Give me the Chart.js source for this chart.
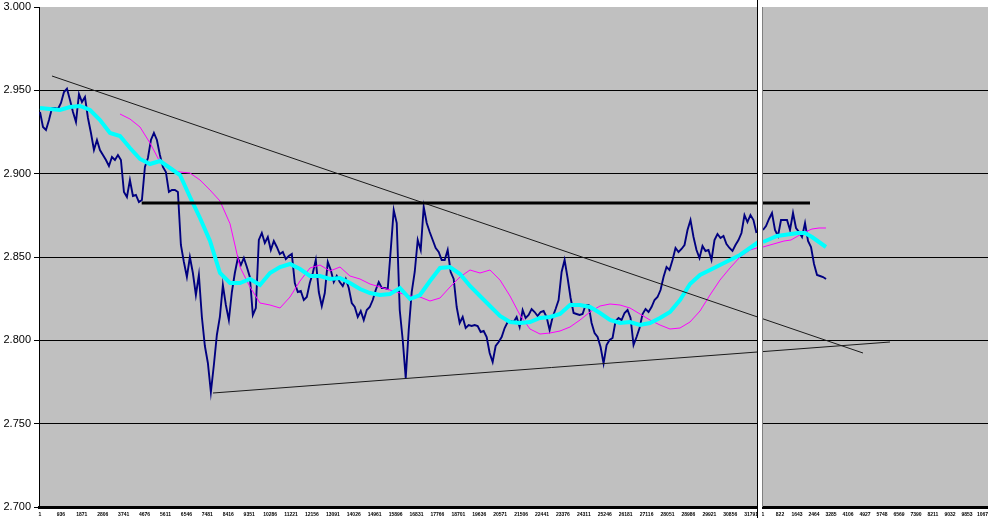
<!DOCTYPE html>
<html><head><meta charset="utf-8">
<script src="https://cdn.jsdelivr.net/npm/chart.js@4.4.0/dist/chart.umd.min.js"></script>
<style>html,body{margin:0;padding:0;background:#fff;}#wrap{width:988px;height:518px;}</style>
</head><body><div id="wrap"><canvas id="c" width="988" height="518"></canvas></div>
<script>
// ---- data (x in sample index; panel 1 and panel 2 have their own index) ----
const BLUE1_START = 1, BLUE1_STEP = 134;
const blue1 = [
2.9370,2.9280,2.9262,2.9322,2.9394,2.9394,2.9388,2.9424,2.9490,2.9510,
2.9442,2.9370,2.9310,2.9478,2.9430,2.9460,2.9334,2.9244,2.9142,2.9202,
2.9142,2.9112,2.9082,2.9046,2.9100,2.9082,2.9112,2.9082,2.8890,2.8860,
2.8962,2.8866,2.8872,2.8830,2.8842,2.9040,2.9094,2.9202,2.9244,2.9202,
2.9112,2.9040,2.9010,2.8890,2.8902,2.8902,2.8890,2.8572,2.8470,2.8380,
2.8500,2.8404,2.8272,2.8392,2.8140,2.7966,2.7864,2.7690,2.7852,2.8032,
2.8140,2.8332,2.8212,2.8122,2.8290,2.8404,2.8494,2.8452,2.8494,2.8440,
2.8380,2.8152,2.8194,2.8602,2.8644,2.8584,2.8620,2.8542,2.8596,2.8560,
2.8518,2.8530,2.8488,2.8506,2.8518,2.8344,2.8290,2.8296,2.8242,2.8260,
2.8344,2.8404,2.8482,2.8290,2.8206,2.8284,2.8470,2.8422,2.8350,2.8386,
2.8350,2.8326,2.8368,2.8314,2.8224,2.8200,2.8140,2.8176,2.8122,2.8182,
2.8200,2.8242,2.8302,2.8350,2.8314,2.8314,2.8308,2.8542,2.8782,2.8704,
2.8182,2.8002,2.7775,2.8062,2.8290,2.8410,2.8602,2.8542,2.8800,2.8704,
2.8650,2.8602,2.8554,2.8530,2.8482,2.8482,2.8542,2.8410,2.8368,2.8200,
2.8104,2.8140,2.8074,2.8092,2.8086,2.8092,2.8086,2.8050,2.8056,2.8020,
2.7924,2.7870,2.7966,2.7990,2.8020,2.8074,2.8110,2.8116,2.8110,2.8140,
2.8080,2.8182,2.8134,2.8152,2.8188,2.8170,2.8146,2.8170,2.8176,2.8140,
2.8062,2.8140,2.8188,2.8242,2.8410,2.8482,2.8374,2.8254,2.8164,2.8158,
2.8152,2.8158,2.8212,2.8212,2.8104,2.8044,2.8020,2.7960,2.7862,2.7972,
2.8002,2.8014,2.8116,2.8134,2.8122,2.8164,2.8182,2.8134,2.7972,2.8020,
2.8074,2.8158,2.8188,2.8170,2.8200,2.8242,2.8260,2.8302,2.8380,2.8440,
2.8422,2.8482,2.8554,2.8530,2.8548,2.8572,2.8662,2.8722,2.8620,2.8542,
2.8494,2.8566,2.8536,2.8542,2.8482,2.8602,2.8638,2.8614,2.8626,2.8578,
2.8554,2.8536,2.8572,2.8602,2.8644,2.8752,2.8710,2.8752,2.8722,2.8644
];
const CYAN1_START = 1, CYAN1_STEP = 447;
const cyan1 = [
2.9394,2.9388,2.9382,2.9400,2.9406,2.9382,2.9322,2.9244,2.9226,2.9154,
2.9088,2.9058,2.9076,2.9034,2.8992,2.8860,2.8734,2.8596,2.8404,2.8344,
2.8344,2.8368,2.8332,2.8404,2.8440,2.8458,2.8428,2.8386,2.8386,2.8368,
2.8374,2.8344,2.8308,2.8284,2.8272,2.8278,2.8314,2.8248,2.8272,2.8356,
2.8434,2.8440,2.8398,2.8326,2.8266,2.8206,2.8146,2.8110,2.8104,2.8110,
2.8134,2.8140,2.8158,2.8212,2.8212,2.8200,2.8164,2.8122,2.8104,2.8110,
2.8092,2.8104,2.8134,2.8170,2.8242,2.8338,2.8392,2.8422,2.8452,2.8482,
2.8512,2.8554,2.8596
];
const MAG1_START = 3577, MAG1_STEP = 447;
const magenta1 = [
2.9358,2.9328,2.9280,2.9184,2.9070,2.9022,2.9010,2.9004,2.8962,2.8902,
2.8836,2.8700,2.8440,2.8320,2.8224,2.8212,2.8194,2.8260,2.8356,2.8434,
2.8452,2.8416,2.8440,2.8386,2.8368,2.8338,2.8320,2.8302,2.8284,2.8266,
2.8260,2.8236,2.8254,2.8320,2.8380,2.8422,2.8404,2.8422,2.8362,2.8266,
2.8152,2.8068,2.8038,2.8044,2.8056,2.8080,2.8122,2.8170,2.8206,2.8218,
2.8212,2.8194,2.8158,2.8122,2.8092,2.8068,2.8074,2.8110,2.8176,2.8272,
2.8362,2.8434,2.8500,2.8542,2.8560
];
// panel 2 (index restarts at 1)
const BLUE2_STEP = 145;
const blue2 = [2.8662,2.8686,2.8728,2.8764,2.8662,2.8626,2.8722,2.8722,2.8722,2.8662,
2.8764,2.8674,2.8650,2.8620,2.8704,2.8596,2.8560,2.8458,2.8392,2.8386,2.8380,2.8368];
const MA2_STEP = 338;
const cyan2 = [2.8590,2.8608,2.8626,2.8632,2.8638,2.8644,2.8644,2.8620,2.8590,2.8560];
const magenta2 = [2.8560,2.8572,2.8584,2.8596,2.8602,2.8626,2.8650,2.8668,2.8674,2.8674];
// drawn trend lines (x in panel-1 index, extended across the chart)
const resistX = [4547, 34420], resistY = [2.8824, 2.8824];
const downX = [537, 36789], downY = [2.9586, 2.7924];
const lowX = [7734, 37996], lowY = [2.7684, 2.7990];
// axis ticks
const ticks1 = [1,936,1871,2806,3741,4676,5611,6546,7481,8416,9351,10286,11221,12156,13091,14026,14961,15896,16831,17766,18701,19636,20571,21506,22441,23376,24311,25246,26181,27116,28051,28986,29921,30856,31791];
const ticks2 = [1,822,1643,2464,3285,4106,4927,5748,6569,7390,8211,9032,9853,10674];
const yTicks = [2.700,2.750,2.800,2.850,2.900,2.950,3.000];

// ---- layout of the two panels on one index axis ----
const XMIN = -43.7, XMAX = 42377;      // axis range in panel-1 index
const PANEL1_END = 32073;              // panel-1 border
const P2_START = 32319, P2_RATIO = 0.9255; // panel-2 index -> axis units

const p1 = (start, step, vals) => vals.map((v, i) => ({x: start + i * step, y: v}));
const p2 = (step, vals) => vals.map((v, i) => ({x: P2_START + i * step * P2_RATIO, y: v}));
const seg = (xs, ys) => xs.map((x, i) => ({x, y: ys[i]}));

const tickVals = ticks1.map(v => v).concat(ticks2.map(j => P2_START + (j - 1) * P2_RATIO));
const tickLabels = ticks1.map(String).concat(ticks2.map(String));

const panelPlugin = {
  id: 'panels',
  beforeDraw(chart) {
    const {ctx, chartArea: a} = chart;
    ctx.save(); ctx.fillStyle = '#C0C0C0';
    ctx.fillRect(a.left, a.top, a.right - a.left, a.bottom - a.top);
    ctx.restore();
  },
  afterDraw(chart) {
    const {ctx, chartArea: a} = chart;
    const px = Math.round(chart.scales.x.getPixelForValue(PANEL1_END));
    ctx.save();
    ctx.fillStyle = '#000'; ctx.fillRect(px, 0, 1, chart.height);
    ctx.fillStyle = '#fff'; ctx.fillRect(px + 1, 0, 4, chart.height);
    ctx.fillStyle = '#808080'; ctx.fillRect(px + 5, a.top, 1, a.bottom - a.top);
    ctx.restore();
  }
};

const lineDs = (data, color, width, order) => ({
  data, borderColor: color, borderWidth: width, pointRadius: 0, fill: false, tension: 0, order
});

new Chart(document.getElementById('c'), {
  type: 'line',
  data: {
    datasets: [
      lineDs(seg(resistX, resistY), '#000', 3, 0),
      lineDs(seg(downX, downY), '#1a1a1a', 1, 1),
      lineDs(seg(lowX, lowY), '#1a1a1a', 1, 1),
      lineDs(p1(CYAN1_START, CYAN1_STEP, cyan1), '#00FFFF', 4, 2),
      lineDs(p2(MA2_STEP, cyan2), '#00FFFF', 4, 2),
      lineDs(p1(MAG1_START, MAG1_STEP, magenta1), '#FF00FF', 1, 3),
      lineDs(p2(MA2_STEP, magenta2), '#FF00FF', 1, 3),
      lineDs(p1(BLUE1_START, BLUE1_STEP, blue1), '#000080', 1.9, 4),
      lineDs(p2(BLUE2_STEP, blue2), '#000080', 1.9, 4)
    ]
  },
  options: {
    responsive: false, animation: false, devicePixelRatio: 1,
    layout: {padding: {top: 7, left: 0, right: 0, bottom: 0}},
    plugins: {legend: {display: false}, tooltip: {enabled: false}},
    scales: {
      x: {
        type: 'linear', min: XMIN, max: XMAX,
        grid: {display: false, drawTicks: false},
        border: {display: true, color: '#000', width: 3},
        afterBuildTicks(s) { s.ticks = tickVals.map(v => ({value: v})); },
        afterFit(s) { s.height = 11; s.paddingLeft = 0; s.paddingRight = 0; },
        ticks: {autoSkip: false, maxRotation: 0, minRotation: 0, padding: 5, color: '#000',
          font: {family: 'Liberation Sans', size: 5, weight: 'bold'},
          callback: (v, i) => tickLabels[i]}
      },
      y: {
        min: 2.7, max: 3.0,
        afterBuildTicks(s) { s.ticks = yTicks.map(v => ({value: v})); },
        afterFit(s) { s.width = 39; s.paddingTop = 0; s.paddingBottom = 0; },
        grid: {color: c => (c.tick && c.tick.value > 2.999) ? 'rgba(0,0,0,0)' : '#000',
               tickColor: '#000', tickLength: 5, lineWidth: 1},
        border: {display: true, color: '#000', width: 1},
        ticks: {padding: 3, color: '#000', font: {family: 'Liberation Sans', size: 11},
          callback: v => Number(v).toFixed(3)}
      }
    }
  },
  plugins: [panelPlugin]
});
</script></body></html>
